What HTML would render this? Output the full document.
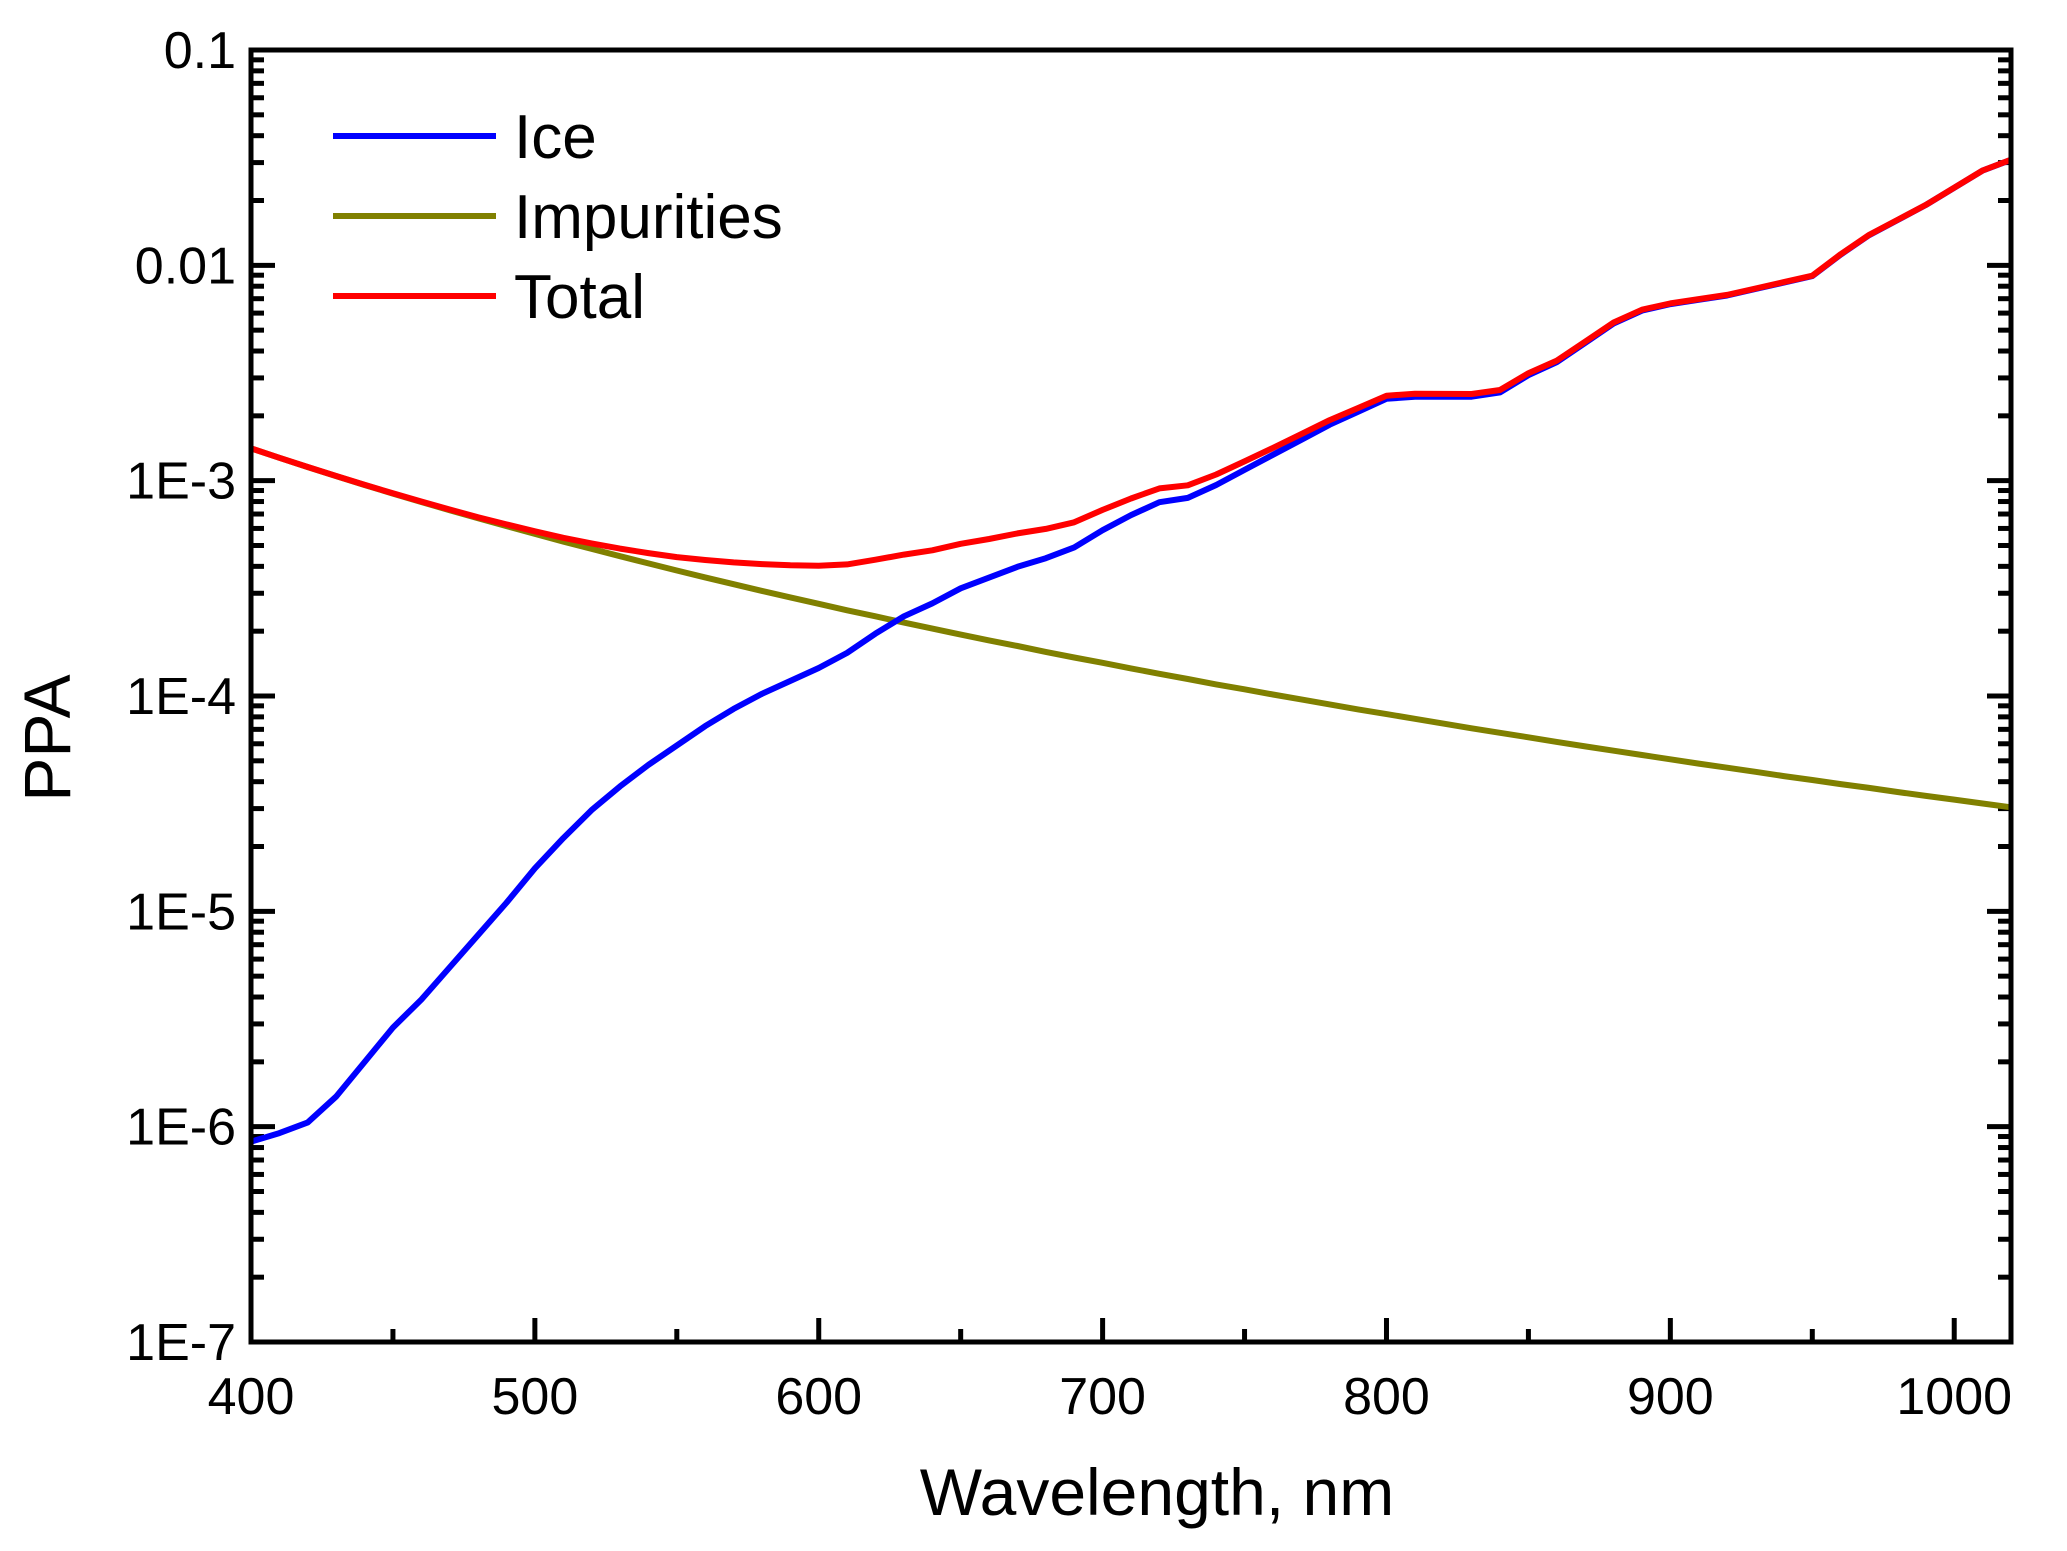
<!DOCTYPE html>
<html><head><meta charset="utf-8"><style>
html,body{margin:0;padding:0;background:#fff;}
svg{display:block;font-family:"Liberation Sans",Arial,sans-serif;}
</style></head><body>
<svg id="chart" width="2067" height="1551" viewBox="0 0 2067 1551" xmlns="http://www.w3.org/2000/svg">
<g id="grid-ticks"></g>
<g id="series"></g>
<rect x="251" y="50" width="1760" height="1292" fill="none" stroke="#000" stroke-width="5"/>
<g id="labels" font-size="52" fill="#000"></g>
<text x="1157" y="1515" font-size="66" text-anchor="middle">Wavelength, nm</text>
<text transform="translate(70,738) rotate(-90)" font-size="66" text-anchor="middle">PPA</text>
<g>
<line x1="333" y1="136" x2="496" y2="136" stroke="#0000ff" stroke-width="6"/>
<text x="514" y="158" font-size="62">Ice</text>
<line x1="333" y1="216" x2="496" y2="216" stroke="#808000" stroke-width="6"/>
<text x="514" y="238" font-size="62">Impurities</text>
<line x1="333" y1="296" x2="496" y2="296" stroke="#ff0000" stroke-width="6"/>
<text x="514" y="318" font-size="62">Total</text>
</g>
</svg>
<script>
const wavelengths = [400,410,420,430,440,450,460,470,480,490,500,510,520,530,540,550,560,570,580,590,600,610,620,630,640,650,660,670,680,690,700,710,720,730,740,750,760,770,780,790,800,810,820,830,840,850,860,870,880,890,900,910,920,930,940,950,960,970,980,990,1000,1010,1020];
const iceLog10 = [-6.07,-6.03,-5.98,-5.86,-5.70,-5.54,-5.41,-5.26,-5.11,-4.96,-4.80,-4.66,-4.53,-4.42,-4.32,-4.23,-4.14,-4.06,-3.99,-3.93,-3.87,-3.80,-3.71,-3.63,-3.57,-3.50,-3.45,-3.40,-3.36,-3.31,-3.23,-3.16,-3.10,-3.08,-3.02,-2.95,-2.88,-2.81,-2.74,-2.68,-2.62,-2.61,-2.61,-2.61,-2.59,-2.51,-2.45,-2.36,-2.27,-2.21,-2.18,-2.16,-2.14,-2.11,-2.08,-2.05,-1.95,-1.86,-1.79,-1.72,-1.64,-1.56,-1.51];
const impuritiesLog10 = [-2.850,-2.894,-2.937,-2.979,-3.020,-3.060,-3.099,-3.137,-3.175,-3.211,-3.247,-3.283,-3.317,-3.351,-3.384,-3.417,-3.449,-3.481,-3.512,-3.542,-3.572,-3.602,-3.630,-3.659,-3.687,-3.715,-3.742,-3.768,-3.795,-3.821,-3.846,-3.872,-3.897,-3.921,-3.946,-3.969,-3.993,-4.016,-4.039,-4.062,-4.084,-4.106,-4.128,-4.150,-4.171,-4.192,-4.213,-4.234,-4.254,-4.274,-4.294,-4.314,-4.333,-4.352,-4.372,-4.390,-4.409,-4.427,-4.446,-4.464,-4.481,-4.499,-4.517];
const xTickValues = [400,500,600,700,800,900,1000];
const yTickLabels = ["1E-7","1E-6","1E-5","1E-4","1E-3","0.01","0.1"];
const yTickExponents = [-7,-6,-5,-4,-3,-2,-1];

const L=251,R=2011,T=50,B=1342, XMIN=400,XMAX=1020,YMIN=-7,YMAX=-1;
function sx(v){return L+(v-XMIN)/(XMAX-XMIN)*(R-L);}
function sy(lg){return B-(lg-YMIN)/(YMAX-YMIN)*(B-T);}
const NS="http://www.w3.org/2000/svg";
function mk(tag,attrs,parent){const e=document.createElementNS(NS,tag);for(const k in attrs)e.setAttribute(k,attrs[k]);parent.appendChild(e);return e;}
const ticks=document.getElementById('grid-ticks');
const labels=document.getElementById('labels');
const series=document.getElementById('series');

for(let v=400; v<=1020; v+=50){
  const major = v%100===0;
  const x=sx(v), len=major?24:13;
  const t=mk('line',{x1:x,y1:B,x2:x,y2:B-len,stroke:'#000','stroke-width':5},ticks);
  
  
}
xTickValues.forEach(v=>{
  const t=mk('text',{x:sx(v),y:B+72,'text-anchor':'middle'},labels);
  t.textContent=v;
  
  
});
for(let d=YMIN; d<YMAX; d++){
  for(let m=1;m<10;m++){
    const y=sy(d+Math.log10(m));
    const len=m===1?24:13;
    const a=mk('line',{x1:L,y1:y,x2:L+len,y2:y,stroke:'#000','stroke-width':5},ticks);
    
    
    const b=mk('line',{x1:R,y1:y,x2:R-len,y2:y,stroke:'#000','stroke-width':5},ticks);
    
    
  }
}
yTickExponents.forEach((e,i)=>{
  const t=mk('text',{x:236,y:sy(e)+18,'text-anchor':'end'},labels);
  t.textContent=yTickLabels[i];
  
  
});

function path(vals,color,name){
  const d=vals.map((v,i)=>(i?'L':'M')+sx(wavelengths[i]).toFixed(1)+','+sy(v).toFixed(1)).join(' ');
  const p=mk('path',{d:d,fill:'none',stroke:color,'stroke-width':6,'stroke-linejoin':'round'},series);
  
  
}
const totalLog10 = iceLog10.map((v,i)=>Math.log10(Math.pow(10,v)+Math.pow(10,impuritiesLog10[i])));
path(impuritiesLog10,'#808000','impurities-line');
path(iceLog10,'#0000ff','ice-line');
path(totalLog10,'#ff0000','total-line');
</script>
</body></html>
